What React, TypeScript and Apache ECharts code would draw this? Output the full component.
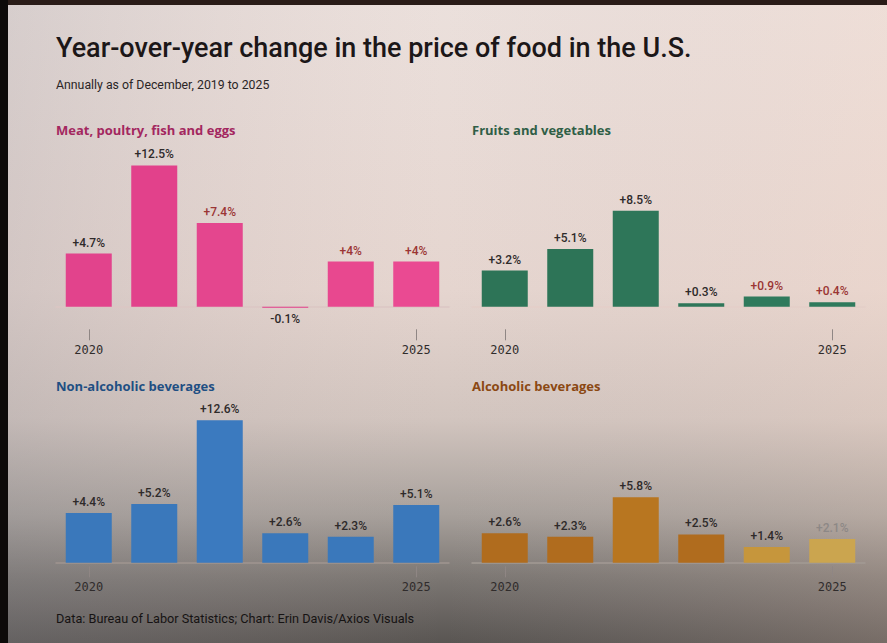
import React, { useEffect, useRef } from "react";
import * as echarts from "echarts";

const years = ["2020", "2021", "2022", "2023", "2024", "2025"];
const meatValues = [4.7, 12.5, 7.4, -0.1, 4, 4];
const fruitValues = [3.2, 5.1, 8.5, 0.3, 0.9, 0.4];
const nonAlcValues = [4.4, 5.2, 12.6, 2.6, 2.3, 5.1];
const alcValues = [2.6, 2.3, 5.8, 2.5, 1.4, 2.1];

const panelTitles = ["Meat, poultry, fish and eggs", "Fruits and vegetables", "Non-alcoholic beverages", "Alcoholic beverages"];

const DARK = "#2e2a2a";
const RED = "#9b3534";
const GRAY = "#8d8886";
const meatLabelColors = [DARK, DARK, RED, DARK, RED, RED];
const fruitLabelColors = [DARK, DARK, DARK, DARK, RED, RED];
const nonAlcLabelColors = [DARK, DARK, DARK, DARK, DARK, DARK];
const alcLabelColors = [DARK, DARK, DARK, DARK, DARK, GRAY];

const meatColors = ["#e2438c", "#e2418b", "#e4468e", "#e2418b", "#e8488f", "#ea4a92"];
const fruitColors = ["#2d7457", "#2d7457", "#2e7659", "#2e7659", "#2f7a5c", "#2f7a5c"];
const nonAlcColors = ["#3a78bb", "#3a78bb", "#3b7abf", "#3a78bb", "#3a78bb", "#3a78bb"];
const alcColors = ["#b06c1e", "#b06c1e", "#b87620", "#b06c1e", "#c6963c", "#cba54f"];

const titleColors = ["#a3275f", "#2f5e46", "#1f4f83", "#8b4813"];

export default function App() {
  const ref = useRef<HTMLDivElement>(null);
  useEffect(() => {
    document.body.style.margin = "0";
    const chart = echarts.init(ref.current!, undefined, { renderer: "svg" });

    const scale = 11.3;
    const yMin = -2;
    const yMax = 13;
    const gh = (yMax - yMin) * scale;
    const baselines = [306.7, 306.7, 562.7, 562.7];
    const lefts = [56, 472, 56, 472];
    const grids = baselines.map((b, i) => ({
      left: lefts[i],
      width: 393,
      top: b - yMax * scale,
      height: gh,
    }));
    const tickOffsets = [0, 0, -19, -19];
    const axisLineColors = ["#dcc6c3", "#e4cec8", "#a09590", "#a39a94"];

    const datasets = [meatValues, fruitValues, nonAlcValues, alcValues];
    const labelColors = [meatLabelColors, fruitLabelColors, nonAlcLabelColors, alcLabelColors];
    const barColors = [meatColors, fruitColors, nonAlcColors, alcColors];

    const xAxis: any[] = [];
    const yAxis: any[] = [];
    const series: any[] = [];
    grids.forEach((g, i) => {
      xAxis.push({
        type: "category",
        gridIndex: i,
        data: years,
        axisLine: { show: true, onZero: true, lineStyle: { color: axisLineColors[i], width: 1.5 } },
        axisTick: { show: false },
        axisLabel: { show: false },
        splitLine: { show: false },
      });
      xAxis.push({
        type: "category",
        gridIndex: i,
        data: years,
        position: "bottom",
        offset: tickOffsets[i],
        axisLine: { show: false, onZero: false },
        axisTick: {
          show: true,
          alignWithLabel: true,
          length: 11,
          interval: (idx: number) => idx === 0 || idx === years.length - 1,
          lineStyle: { color: "#8f8684", width: 1 },
        },
        axisLabel: {
          show: true,
          margin: 15,
          interval: (idx: number) => idx === 0 || idx === years.length - 1,
          fontFamily: "DejaVu Sans Mono",
          fontSize: 12,
          color: "#302c2c",
        },
        splitLine: { show: false },
      });
      yAxis.push({ type: "value", gridIndex: i, min: yMin, max: yMax, show: false, splitLine: { show: false } });
      series.push({
        type: "bar",
        xAxisIndex: i * 2,
        yAxisIndex: i,
        barWidth: 46,
        data: datasets[i].map((v, j) => ({
          value: v,
          itemStyle: { color: barColors[i][j] },
          label: {
            show: true,
            position: v < 0 ? "bottom" : "top",
            distance: 5,
            color: labelColors[i][j],
            formatter: () => (v >= 0 ? "+" : "") + v + "%",
            fontFamily: "Roboto",
            fontSize: 12,
            fontWeight: 500,
          },
        })),
      });
    });

    const titlePos = [
      [56, 130],
      [472, 130],
      [56, 385.5],
      [472, 385.5],
    ];

    chart.setOption({
      animation: false,
      grid: grids,
      xAxis,
      yAxis,
      series,
      graphic: [
        {
          type: "rect",
          z: -10,
          shape: { x: 0, y: 0, width: 887, height: 643 },
          style: {
            fill: new echarts.graphic.LinearGradient(0, 0, 0, 1, [
              { offset: 0, color: "#ebe0dc" },
              { offset: 0.45, color: "#e5d5cf" },
              { offset: 0.65, color: "#d2c5bf" },
              { offset: 0.8, color: "#a7a09b" },
              { offset: 0.9, color: "#7b7672" },
              { offset: 1, color: "#595552" },
            ]),
          },
          silent: true,
        },
        {
          type: "rect",
          z: -9,
          shape: { x: 0, y: 0, width: 887, height: 643 },
          style: {
            fill: new echarts.graphic.LinearGradient(0, 0, 1, 0, [
              { offset: 0, color: "rgba(140,140,150,0.22)" },
              { offset: 0.5, color: "rgba(200,180,180,0.0)" },
              { offset: 1, color: "rgba(255,215,195,0.18)" },
            ]),
          },
          silent: true,
        },
        { type: "rect", z: -8, shape: { x: 0, y: 0, width: 887, height: 5 }, style: { fill: "#2a1c18" }, silent: true },
        { type: "rect", z: -8, shape: { x: 0, y: 0, width: 8, height: 643 }, style: { fill: "#0d0a09" }, silent: true },
        {
          type: "text",
          x: 56,
          y: 48,
          style: {
            text: "Year-over-year change in the price of food in the U.S.",
            fontFamily: "Roboto",
            fontSize: 27,
            fontWeight: 500,
            fill: "#1c1718",
            verticalAlign: "middle",
          },
        },
        {
          type: "text",
          x: 56,
          y: 85,
          style: {
            text: "Annually as of December, 2019 to 2025",
            fontFamily: "Roboto",
            fontSize: 12.3,
            fill: "#2a2526",
            verticalAlign: "middle",
          },
        },
        ...panelTitles.map((t, i) => ({
          type: "text",
          x: titlePos[i][0],
          y: titlePos[i][1],
          style: {
            text: t,
            fontFamily: "Open Sans",
            fontSize: 13,
            fontWeight: "bold",
            fill: titleColors[i],
            verticalAlign: "middle",
          },
        })),
        {
          type: "text",
          x: 56,
          y: 618,
          style: {
            text: "Data: Bureau of Labor Statistics; Chart: Erin Davis/Axios Visuals",
            fontFamily: "Roboto",
            fontSize: 12.7,
            fill: "#161313",
            verticalAlign: "middle",
          },
        },
      ],
    });
    return () => chart.dispose();
  }, []);
  return <div ref={ref} style={{ width: 887, height: 643 }} />;
}
